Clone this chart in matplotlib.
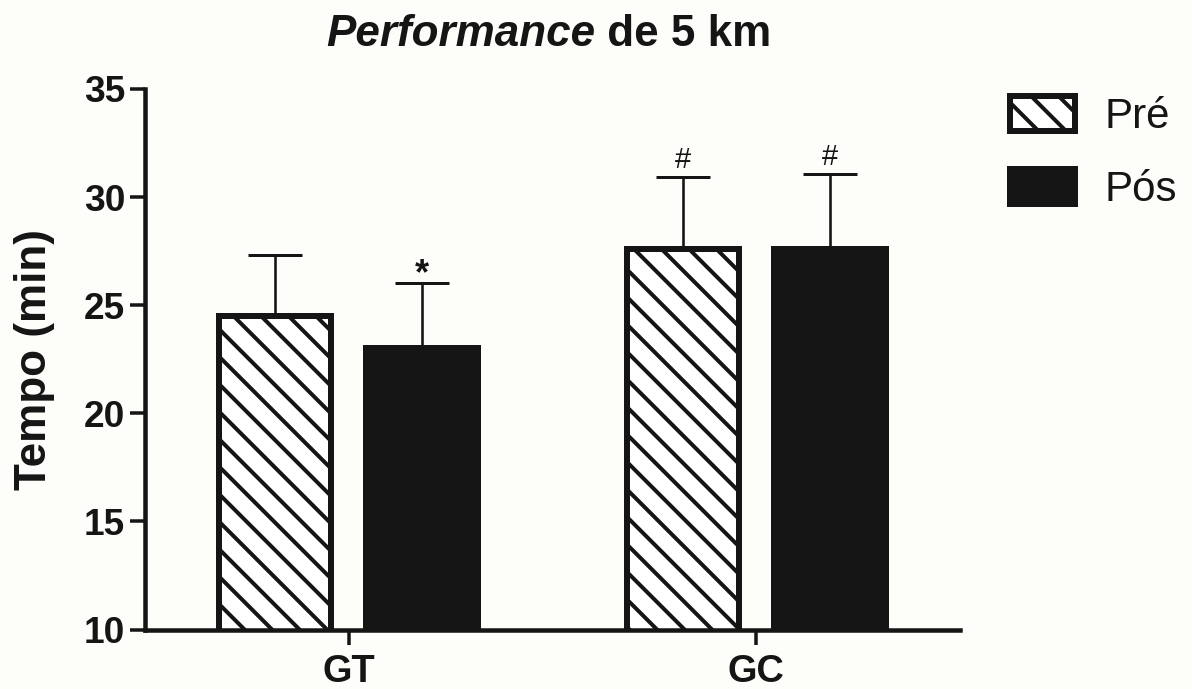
import matplotlib
matplotlib.use("Agg")
import matplotlib.pyplot as plt
import numpy as np

# ---- data ----
groups = ["GT", "GC"]
series = ["Pré", "Pós"]
pre_mean = [24.50, 27.60]
pre_err = [2.82, 3.32]
pos_mean = [23.02, 27.60]
pos_err = [3.02, 3.45]
pre_marks = ["", "#"]
pos_marks = ["*", "#"]
yticks = [10, 15, 20, 25, 30, 35]

DPI = 165
W, H = 1192, 689
def pt(px):
    return px * 72.0 / DPI

plt.rcParams["font.family"] = ["Liberation Sans", "DejaVu Sans"]
plt.rcParams["hatch.linewidth"] = pt(4.0)
plt.rcParams["hatch.color"] = "#151515"

bg = "#fdfdfa"
ink = "#151515"

fig = plt.figure(figsize=(W / DPI, H / DPI), dpi=DPI, facecolor=bg)
ax = fig.add_axes([145 / W, 1 - 629.5 / H, 815 / W, (629.5 - 89) / H])
ax.set_facecolor(bg)

x = np.arange(len(groups))
bw = 0.275
off = 0.180
edge_lw = pt(6)

b1 = ax.bar(x - off, pre_mean, bw, color="white", edgecolor=ink,
            linewidth=edge_lw, hatch="\\\\", label=series[0], zorder=3)
b2 = ax.bar(x + off, pos_mean, bw, color=ink, edgecolor=ink,
            linewidth=edge_lw, label=series[1], zorder=3)

err_kw = dict(fmt="none", ecolor=ink, elinewidth=pt(2.6), capsize=pt(27),
              capthick=pt(3), zorder=2)
ax.errorbar(x - off, pre_mean, yerr=[np.zeros(len(x)), pre_err], **err_kw)
ax.errorbar(x + off, pos_mean, yerr=[np.zeros(len(x)), pos_err], **err_kw)

def mark(xi, top, s):
    if s == "*":
        ax.annotate(s, (xi, top), xytext=(0, pt(-1)), textcoords="offset points",
                    ha="center", va="baseline", fontsize=pt(36), color=ink,
                    fontweight="bold")
    elif s:
        ax.annotate(s, (xi, top), xytext=(0, pt(9)), textcoords="offset points",
                    ha="center", va="baseline", fontsize=pt(29), color=ink)

for xi, m, e, s in zip(x - off, pre_mean, pre_err, pre_marks):
    mark(xi, m + e, s)
for xi, m, e, s in zip(x + off, pos_mean, pos_err, pos_marks):
    mark(xi, m + e, s)

ax.set_xlim(-0.5, 1.5)
ax.set_ylim(10, 35)
ax.set_yticks(yticks)
ax.set_xticks(x)
ax.set_xticklabels(groups)
for s in ["top", "right"]:
    ax.spines[s].set_visible(False)
for s in ["left", "bottom"]:
    ax.spines[s].set_linewidth(pt(4.5))
    ax.spines[s].set_color(ink)
    ax.spines[s].set_zorder(4)
ax.tick_params(axis="y", length=pt(15), width=pt(3.5), pad=pt(5),
               labelsize=pt(37), colors=ink)
ax.tick_params(axis="x", length=pt(15), width=pt(3.5), pad=pt(10),
               labelsize=pt(38), colors=ink)
for lab in ax.get_yticklabels() + ax.get_xticklabels():
    lab.set_fontweight("bold")

fig.text(35 / W, 1 - 360 / H, "Tempo (min)", rotation=90, ha="center",
         va="center", fontsize=pt(44), fontweight="bold", color=ink)

t1 = fig.text(326 / W, 1 - 46 / H, "Performance", ha="left", va="baseline",
              fontsize=pt(44), fontweight="bold", fontstyle="italic", color=ink)
ax.annotate(" de 5 km", xy=(1, 0), xycoords=t1, ha="left", va="bottom",
            fontsize=pt(44), fontweight="bold", color=ink,
            annotation_clip=False)

leg = fig.legend(handles=[b1, b2], labels=series, loc="upper left",
                 bbox_to_anchor=(1010 / W, 1 - 96 / H), frameon=False,
                 borderpad=0, borderaxespad=0, fontsize=pt(42),
                 handlelength=65 / 42, handleheight=38 / 42,
                 handletextpad=30 / 42, labelspacing=0.76)
for t in leg.get_texts():
    t.set_color(ink)

fig.savefig("out.png", dpi=DPI, facecolor=bg)
